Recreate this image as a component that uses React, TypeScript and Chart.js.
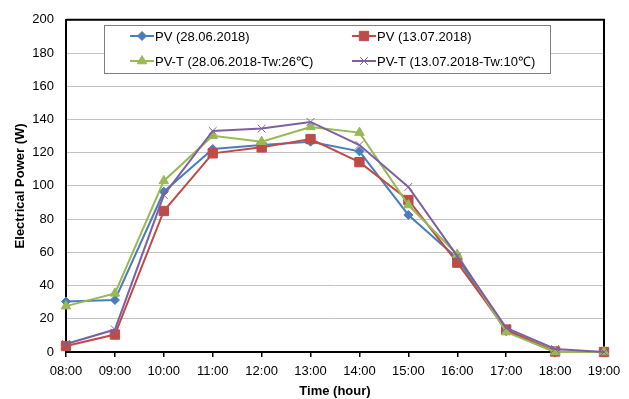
import React, { useEffect, useRef } from 'react';
import { Chart, registerables } from 'chart.js';
import { drawPoint } from 'chart.js/helpers';
Chart.register(...registerables);

const categories = ['08:00', '09:00', '10:00', '11:00', '12:00', '13:00', '14:00', '15:00', '16:00', '17:00', '18:00', '19:00'];
const pv2806 = [30.4, 31.3, 96.5, 122.2, 124.6, 126.6, 120.8, 82.5, 56.5, 12.5, 0, 0];
const pv1307 = [3.6, 10.5, 84.9, 119.6, 123.2, 128.2, 114.3, 91.5, 53.8, 13.5, 0.3, 0];
const pvt2806 = [27.6, 35.3, 103, 130.2, 126.6, 135.5, 132.1, 88.5, 58.7, 12, 0, 0];
const pvt1307 = [4.8, 13.5, 94.5, 133.1, 134.5, 138.5, 124.6, 99.4, 57.7, 14.5, 1.8, 0];
const seriesLabels = ['PV (28.06.2018)', 'PV (13.07.2018)', 'PV-T (28.06.2018-Tw:26℃)', 'PV-T (13.07.2018-Tw:10℃)'];
const yTitle = 'Electrical Power (W)';
const xTitle = 'Time (hour)';

const FONT = "'Liberation Sans', Arial, sans-serif";

const styles = [
  { color: '#4A7EBB', pointStyle: 'rectRot', radius: 4.5, pbw: 1 },
  { color: '#BE4B48', pointStyle: 'rect', radius: 6.6, pbw: 1 },
  { color: '#98B954', pointStyle: 'triangle', radius: 5.5, pbw: 1 },
  { color: '#7D60A0', pointStyle: 'crossRot', radius: 5.5, pbw: 1 },
];

const frameLegendPlugin = {
  id: 'frameLegend',
  beforeDatasetsDraw(chart: any) {
    const { ctx, chartArea } = chart;
    ctx.save();
    ctx.strokeStyle = '#000';
    ctx.lineWidth = 2;
    ctx.beginPath();
    ctx.moveTo(chartArea.left, chartArea.top);
    ctx.lineTo(chartArea.right, chartArea.top);
    ctx.lineTo(chartArea.right, chartArea.bottom);
    ctx.stroke();
    ctx.fillStyle = '#fff';
    ctx.fillRect(104, 25, 446, 48);
    ctx.strokeStyle = '#7f7f7f';
    ctx.lineWidth = 1;
    ctx.strokeRect(104.5, 25.5, 446, 48);
    const cols = [130, 352];
    const rows = [36, 61];
    ctx.font = `13px ${FONT}`;
    ctx.textBaseline = 'middle';
    ctx.textAlign = 'left';
    chart.data.datasets.forEach((ds: any, i: number) => {
      const x = cols[i % 2];
      const y = rows[Math.floor(i / 2)];
      const s = styles[i];
      ctx.strokeStyle = s.color;
      ctx.lineWidth = 2;
      ctx.beginPath();
      ctx.moveTo(x, y);
      ctx.lineTo(x + 24, y);
      ctx.stroke();
      ctx.fillStyle = s.color;
      ctx.lineWidth = s.pbw;
      drawPoint(ctx, { pointStyle: s.pointStyle, radius: s.radius, rotation: 0, borderWidth: s.pbw } as any, x + 12, y);
      ctx.fillStyle = '#000';
      ctx.fillText(ds.label, x + 25, y + 1);
    });
    ctx.restore();
  },
};

export default function App() {
  const ref = useRef<HTMLCanvasElement>(null);
  useEffect(() => {
    if (!ref.current) return;
    const values = [pv2806, pv1307, pvt2806, pvt1307];
    const chart = new Chart(ref.current, {
      type: 'line',
      data: {
        labels: categories,
        datasets: values.map((v, i) => ({
          label: seriesLabels[i],
          data: v,
          borderColor: styles[i].color,
          backgroundColor: styles[i].color,
          pointBackgroundColor: styles[i].color,
          pointBorderColor: styles[i].color,
          pointBorderWidth: styles[i].pbw,
          pointStyle: styles[i].pointStyle as any,
          pointRadius: styles[i].radius,
          borderWidth: 2,
          tension: 0,
          clip: false as any,
          order: 4 - i,
        })),
      },
      options: {
        responsive: false,
        animation: false,
        layout: { padding: { left: 0, top: 16, right: 25, bottom: 0 } },
        plugins: {
          legend: { display: false },
          tooltip: { enabled: false },
        },
        scales: {
          x: {
            type: 'category',
            offset: false,
            grid: { display: true, drawOnChartArea: false, drawTicks: true, tickLength: 5, color: '#000', lineWidth: 1.5 },
            border: { display: true, color: '#000', width: 2 },
            ticks: { color: '#000', font: { family: FONT, size: 13 }, padding: 7, maxRotation: 0, autoSkip: false },
            title: { display: true, text: xTitle, color: '#000', font: { family: FONT, size: 13, weight: 'bold' }, padding: { top: 0, bottom: 0 } },
            afterFit(scale: any) { scale.height = 47; },
          },
          y: {
            min: 0,
            max: 200,
            ticks: { stepSize: 20, color: '#000', font: { family: FONT, size: 13 }, padding: 12 },
            grid: { color: '#c3c3c3', lineWidth: 1, drawTicks: false },
            border: { display: true, color: '#000', width: 2 },
            title: { display: true, text: yTitle, color: '#000', font: { family: FONT, size: 13, weight: 'bold' }, padding: { top: 13, bottom: 0 } },
            afterFit(scale: any) { scale.width = 66; },
          },
        },
      },
      plugins: [frameLegendPlugin],
    });
    return () => chart.destroy();
  }, []);
  return (
    <div style={{ position: 'absolute', left: 0, top: 0, width: 629, height: 399, background: '#fff' }}>
      <canvas ref={ref} width={629} height={399} />
    </div>
  );
}
